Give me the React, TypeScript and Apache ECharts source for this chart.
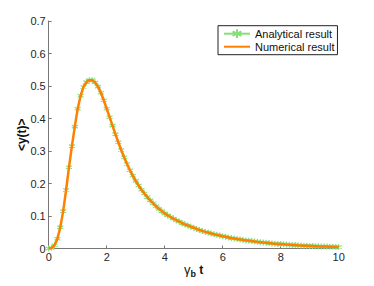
import React, { useEffect, useRef } from "react";
import * as echarts from "echarts";

const tStep = 0.1;
const analyticalValues = [
  0, 0.002, 0.01, 0.03, 0.065, 0.115, 0.18, 0.25, 0.315, 0.375,
  0.43, 0.47, 0.497, 0.512, 0.518, 0.518, 0.511, 0.498, 0.479, 0.456,
  0.43, 0.404, 0.378, 0.352, 0.327, 0.303, 0.281, 0.26, 0.241, 0.224,
  0.208, 0.194, 0.181, 0.169, 0.158, 0.148, 0.139, 0.13, 0.122, 0.115,
  0.108, 0.102, 0.097, 0.092, 0.087, 0.083, 0.078, 0.074, 0.071, 0.067,
  0.064, 0.06, 0.057, 0.054, 0.051, 0.049, 0.046, 0.044, 0.042, 0.04,
  0.038, 0.036, 0.034, 0.032, 0.031, 0.029, 0.028, 0.026, 0.025, 0.024,
  0.023, 0.0215, 0.0204, 0.0194, 0.0184, 0.0175, 0.0166, 0.0157, 0.0149, 0.0142,
  0.0135, 0.0128, 0.0121, 0.0115, 0.0109, 0.0104, 0.0098, 0.0093, 0.0088, 0.0084,
  0.008, 0.0076, 0.0072, 0.0068, 0.0065, 0.0061, 0.0058, 0.0055, 0.0052, 0.005,
  0.0047,
];
const numericalValues = analyticalValues;
const xTicks = [0, 2, 4, 6, 8, 10];
const yTicks = [0, 0.1, 0.2, 0.3, 0.4, 0.5, 0.6, 0.7];
const seriesNames = ["Analytical result", "Numerical result"];

const GREEN = "#86e07a";
const ORANGE = "#ff8000";
const FONT = "Liberation Sans, Arial, sans-serif";

export default function App() {
  const ref = useRef<HTMLDivElement>(null);
  useEffect(() => {
    if (!ref.current) return;
    const chart = echarts.init(ref.current, null, { renderer: "svg" });
    const toPairs = (vals: number[]) => vals.map((v, i) => [+(i * tStep).toFixed(2), v]);
    chart.setOption({
      animation: false,
      backgroundColor: "#fff",
      textStyle: { fontFamily: FONT },
      grid: { left: 48.7, right: 35.3, top: 21, bottom: 37.5, containLabel: false },
      legend: {
        left: 218,
        top: 25.7,
        orient: "vertical",
        itemWidth: 26,
        itemHeight: 11,
        itemGap: 1,
        padding: [2, 3, 2, 5],
        borderColor: "#222",
        borderWidth: 1,
        backgroundColor: "#fff",
        textStyle: { fontSize: 11, color: "#111", fontFamily: FONT, lineHeight: 12 },
        data: [
          { name: seriesNames[0] },
          { name: seriesNames[1], itemStyle: { opacity: 0 } },
        ],
      },
      xAxis: {
        type: "value",
        min: xTicks[0],
        max: xTicks[xTicks.length - 1],
        interval: 2,
        name: "{g|γ}{b|b}{t| t}",
        nameLocation: "middle",
        nameGap: 12,
        nameMoveOverlap: false,
        nameTextStyle: {
          rich: {
            g: { fontSize: 13, color: "#111", fontFamily: FONT, lineHeight: 18 },
            b: { fontSize: 9, fontWeight: "bold", color: "#111", fontFamily: FONT, lineHeight: 10, verticalAlign: "bottom" },
            t: { fontSize: 12, fontWeight: "bold", color: "#111", fontFamily: FONT, lineHeight: 18 },
          },
        },
        axisLine: { show: true, lineStyle: { color: "#777", width: 1 } },
        axisTick: { show: true, inside: true, length: 3, lineStyle: { color: "#777" } },
        axisLabel: { fontSize: 11, color: "#262626", margin: 3, fontFamily: FONT },
        splitLine: { show: false },
      },
      yAxis: {
        type: "value",
        min: yTicks[0],
        max: yTicks[yTicks.length - 1],
        interval: 0.1,
        name: "<y(t)>",
        nameLocation: "middle",
        nameGap: 21,
        nameMoveOverlap: false,
        nameRotate: 90,
        nameTextStyle: { fontSize: 12, fontWeight: "bold", color: "#111", fontFamily: FONT },
        axisLine: { show: true, lineStyle: { color: "#777", width: 1 } },
        axisTick: { show: true, inside: true, length: 3, lineStyle: { color: "#777" } },
        axisLabel: { fontSize: 11, color: "#262626", margin: 3, fontFamily: FONT },
        splitLine: { show: false },
      },
      series: [
        {
          name: seriesNames[0],
          type: "line",
          data: toPairs(analyticalValues),
          symbol: "path://M5,0L5,10M0.67,2.5L9.33,7.5M0.67,7.5L9.33,2.5",
          symbolSize: 6,
          showSymbol: true,
          showAllSymbol: true,
          lineStyle: { color: GREEN, width: 1 },
          itemStyle: { color: GREEN, borderColor: GREEN, borderWidth: 1.2 },
          z: 2,
        },
        {
          name: seriesNames[1],
          type: "line",
          data: toPairs(numericalValues),
          symbol: "none",
          lineStyle: { color: ORANGE, width: 2.5 },
          itemStyle: { color: ORANGE },
          z: 3,
        },
      ],
    });
    return () => chart.dispose();
  }, []);
  return (
    <div
      ref={ref}
      style={{ position: "fixed", left: 0, top: 0, width: 374, height: 286, background: "#fff" }}
    />
  );
}
